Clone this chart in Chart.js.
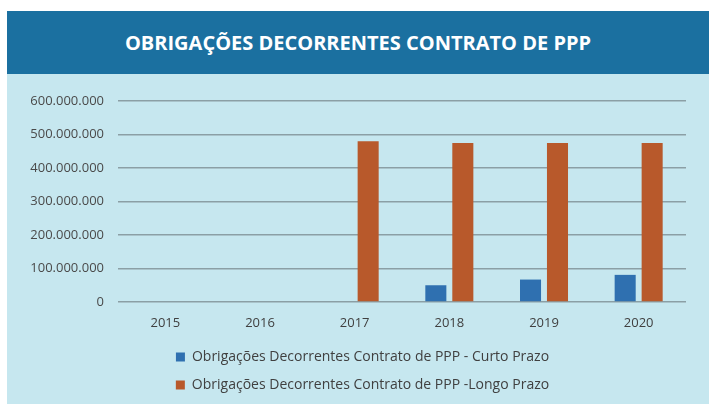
<!DOCTYPE html>
<html>
<head>
<meta charset="utf-8">
<script src="https://cdn.jsdelivr.net/npm/chart.js@4"></script>
<style>
  html, body { margin: 0; padding: 0; background: #ffffff; }
  body { width: 709px; height: 404px; position: relative; overflow: hidden; }
  #header {
    position: absolute; left: 7px; top: 11px; width: 702px; height: 63px;
    background: #1b70a0; color: #ffffff;
    font-family: "Open Sans", sans-serif; font-weight: bold; font-size: 20px;
    line-height: 63px; text-align: center;
  }
  #panel {
    position: absolute; left: 7px; top: 74px; width: 702px; height: 330px;
    background: #c6e7ef;
  }
  #chart { display: block; }
</style>
</head>
<body>
<div id="header">OBRIGAÇÕES DECORRENTES CONTRATO DE PPP</div>
<div id="panel"><canvas id="chart" width="702" height="330"></canvas></div>
<script>
"use strict";

// Chart data
const years = ["2015", "2016", "2017", "2018", "2019", "2020"];
const curtoPrazo = [0, 0, 0, 50000000, 67000000, 81000000];
const longoPrazo = [0, 0, 480000000, 475000000, 475000000, 475000000];
const seriesNames = [
  "Obrigações Decorrentes Contrato de PPP - Curto Prazo",
  "Obrigações Decorrentes Contrato de PPP -Longo Prazo"
];

// Format numbers with dots as thousand separators
function formatValue(v) {
  return String(v).replace(/\B(?=(\d{3})+(?!\d))/g, ".");
}

// Nudge the legend a little to the right, like the original
const legendShift = {
  id: "legendShift",
  afterLayout(chart) {
    chart.legend.left += 6;
    chart.legend.right += 6;
  }
};

const ctx = document.getElementById("chart").getContext("2d");
new Chart(ctx, {
  type: "bar",
  data: {
    labels: years,
    datasets: [
      {
        label: seriesNames[0],
        data: curtoPrazo,
        backgroundColor: "#2f70b0",
        barPercentage: 0.78,
        categoryPercentage: 0.57
      },
      {
        label: seriesNames[1],
        data: longoPrazo,
        backgroundColor: "#b8592b",
        barPercentage: 0.78,
        categoryPercentage: 0.57
      }
    ]
  },
  plugins: [legendShift],
  options: {
    responsive: false,
    animation: false,
    layout: { padding: { left: 20, right: 23, top: 27, bottom: 2 } },
    plugins: {
      tooltip: { enabled: false },
      legend: {
        position: "bottom",
        labels: {
          boxWidth: 9,
          boxHeight: 9,
          padding: 14,
          color: "#404040",
          font: { family: "Open Sans", size: 14 }
        }
      }
    },
    scales: {
      x: {
        grid: { display: false, drawTicks: false },
        border: { display: false },
        afterFit: (scale) => { scale.height = 34; },
        ticks: {
          padding: 13,
          color: "#404040",
          font: { family: "Open Sans", size: 13 }
        }
      },
      y: {
        min: 0,
        max: 600000000,
        grid: { color: "#8b9fa5", lineWidth: 1.5, drawTicks: false },
        border: { display: false },
        afterFit: (scale) => { scale.width = 91; },
        ticks: {
          stepSize: 100000000,
          padding: 14,
          color: "#4a4a4a",
          font: { family: "Open Sans", size: 13 },
          callback: (v) => formatValue(v)
        }
      }
    }
  }
});
</script>
</body>
</html>
